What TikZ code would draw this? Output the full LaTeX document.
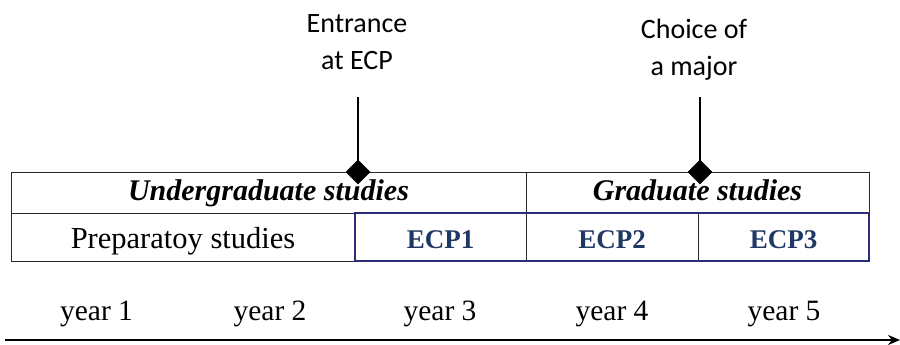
\documentclass[tikz,border=0pt]{standalone}
\usepackage{fontspec}
\setmainfont{Liberation Serif}
\newfontfamily\labsans{Carlito}
\usetikzlibrary{shapes.geometric,arrows.meta}
\definecolor{navy}{RGB}{43,45,120}
\definecolor{ecptext}{RGB}{31,56,100}
\definecolor{tline}{RGB}{40,40,40}
\begin{document}
\begin{tikzpicture}[x=1pt,y=-1pt,
  cell/.style={draw=tline, line width=1pt, inner sep=0pt, outer sep=0pt, text height=29pt, text depth=7pt, font=\fontsize{30.5}{32}\selectfont},
  head/.style={cell, text height=25pt, text depth=10pt, font=\fontsize{30}{32}\selectfont\bfseries\itshape},
  ecp/.style={cell, text=ecptext, font=\fontsize{27}{30}\selectfont\bfseries},
  toplab/.style={align=center, font=\labsans\fontsize{28}{37}\selectfont},
  yearlab/.style={font=\fontsize{29.5}{32}\selectfont},
  marker/.style={diamond, fill=black, inner sep=0pt, minimum size=25pt},
  stem/.style={line width=2pt},
  timeline/.style={line width=2.2pt, -{Stealth[length=12pt,width=10pt]}}]
\useasboundingbox (0,0) rectangle (900,345);
% table cells
\node[head, minimum width=515pt, minimum height=41pt] (ug) at (268.5,192.5) {Undergraduate studies};
\node[head, minimum width=343pt, minimum height=41pt] (gr) at (697.5,192.5) {Graduate studies};
\node[cell, minimum width=344pt, minimum height=48pt] (prep) at (183,237) {Preparatoy studies};
\node[ecp, minimum width=171pt, minimum height=48pt] (e1) at (440.5,237) {ECP1};
\node[ecp, minimum width=172pt, minimum height=48pt] (e2) at (612,237) {ECP2};
\node[ecp, minimum width=171pt, minimum height=48pt] (e3) at (783.5,237) {ECP3};
\draw[navy, line width=2.5pt] (e1.north west) rectangle (e3.south east);
% markers
\node[toplab] (l1) at (357,42) {Entrance\\at ECP};
\node[toplab] (l2) at (694,50) {Choice of\\a major};
\coordinate (t1) at (358,97);
\coordinate (t2) at (700,97);
\node[marker] (d1) at (358,172) {};
\node[marker] (d2) at (700,172) {};
\draw[stem] (t1) -- (d1.center);
\draw[stem] (t2) -- (d2.center);
% years
\node[yearlab] (y1) at (96.5,314) {year 1};
\node[yearlab] (y2) at (270,314) {year 2};
\node[yearlab] (y3) at (440,314) {year 3};
\node[yearlab] (y4) at (612,314) {year 4};
\node[yearlab] (y5) at (784,314) {year 5};
\coordinate (a0) at (5,340);
\coordinate (a1) at (900,340);
\draw[timeline] (a0) -- (a1);
\end{tikzpicture}
\end{document}
